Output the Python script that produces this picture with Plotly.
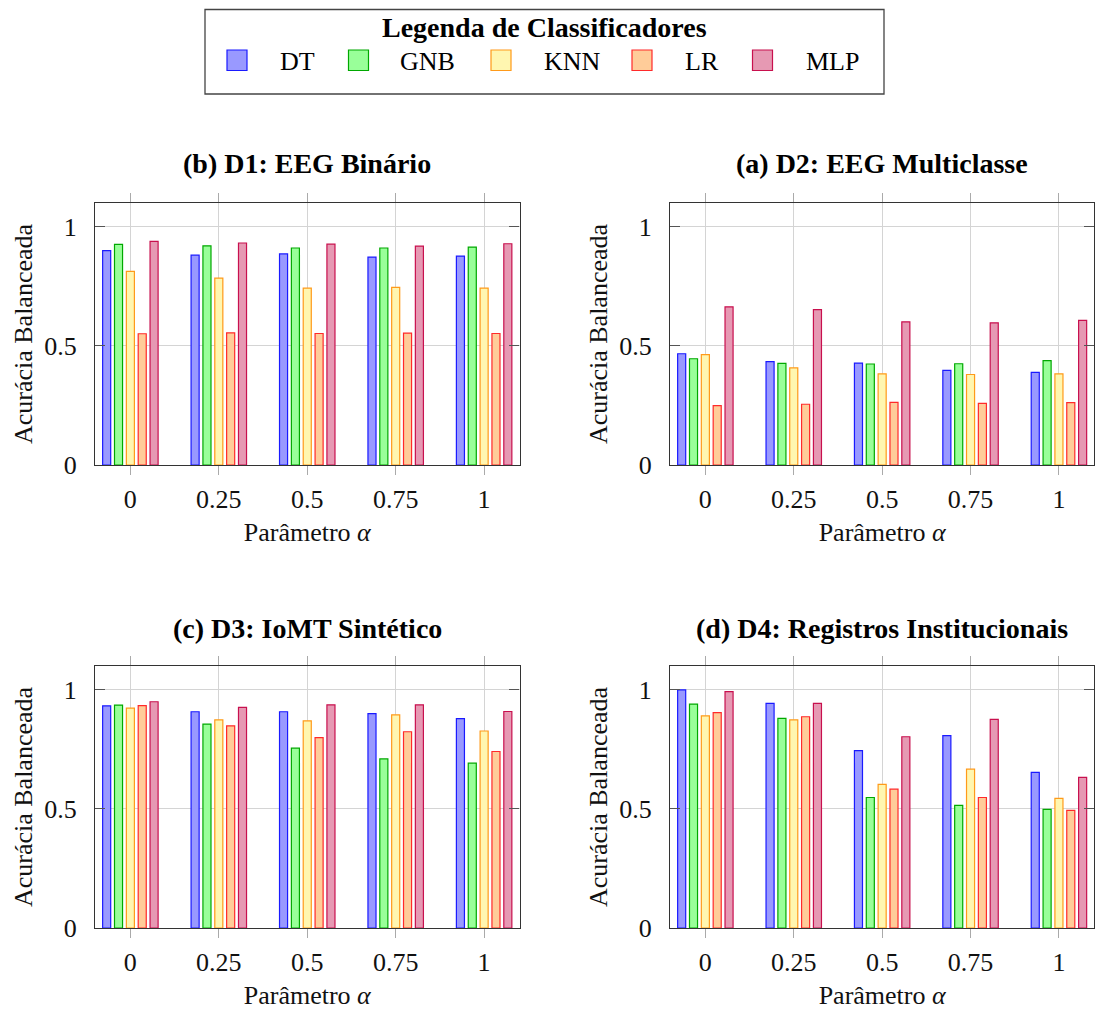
import plotly.graph_objects as go

# ---------------- data ----------------
alphas = [0, 0.25, 0.5, 0.75, 1]
alpha_labels = ["0", "0.25", "0.5", "0.75", "1"]
classifiers = ["DT", "GNB", "KNN", "LR", "MLP"]
y_ticks = [0, 0.5, 1]
y_tick_labels = ["0", "0.5", "1"]

panel_titles = [
    "(b) D1: EEG Binário",
    "(a) D2: EEG Multiclasse",
    "(c) D3: IoMT Sintético",
    "(d) D4: Registros Institucionais",
]

# D1: EEG Binário
d1_dt = [0.900, 0.881, 0.886, 0.873, 0.877]
d1_gnb = [0.926, 0.920, 0.911, 0.911, 0.915]
d1_knn = [0.813, 0.785, 0.743, 0.746, 0.743]
d1_lr = [0.551, 0.555, 0.552, 0.554, 0.552]
d1_mlp = [0.939, 0.932, 0.927, 0.919, 0.929]

# D2: EEG Multiclasse
d2_dt = [0.467, 0.434, 0.428, 0.397, 0.389]
d2_gnb = [0.446, 0.427, 0.424, 0.425, 0.438]
d2_knn = [0.463, 0.408, 0.383, 0.380, 0.383]
d2_lr = [0.249, 0.255, 0.263, 0.259, 0.262]
d2_mlp = [0.664, 0.652, 0.601, 0.597, 0.607]

# D3: IoMT Sintético
d3_dt = [0.933, 0.908, 0.908, 0.900, 0.879]
d3_gnb = [0.936, 0.856, 0.755, 0.710, 0.692]
d3_knn = [0.923, 0.874, 0.870, 0.895, 0.827]
d3_lr = [0.934, 0.849, 0.799, 0.824, 0.741]
d3_mlp = [0.950, 0.926, 0.937, 0.937, 0.909]

# D4: Registros Institucionais
d4_dt = [1.000, 0.943, 0.745, 0.808, 0.653]
d4_gnb = [0.940, 0.880, 0.548, 0.515, 0.498]
d4_knn = [0.891, 0.874, 0.603, 0.667, 0.544]
d4_lr = [0.904, 0.887, 0.583, 0.548, 0.494]
d4_mlp = [0.992, 0.943, 0.803, 0.876, 0.632]

datasets = [
    [d1_dt, d1_gnb, d1_knn, d1_lr, d1_mlp],
    [d2_dt, d2_gnb, d2_knn, d2_lr, d2_mlp],
    [d3_dt, d3_gnb, d3_knn, d3_lr, d3_mlp],
    [d4_dt, d4_gnb, d4_knn, d4_lr, d4_mlp],
]

# ---------------- styles ----------------
fill_colors = ["#9999ff", "#99ff99", "#fff6b0", "#ffcc99", "#e699b3"]
line_colors = ["#1a1aff", "#00a800", "#ff9a1a", "#ff2a2a", "#c8104e"]

W, H = 1095, 1010
FONT = "Liberation Serif"


def px(x):
    return x / W


def py(y):
    return 1 - y / H


x_domains = [[px(95), px(519.5)], [px(670), px(1094.3)]]
y_domains = [[py(465), py(203)], [py(928), py(666)]]

fig = go.Figure()

for p in range(4):
    row, col = divmod(p, 2)
    sfx = "" if p == 0 else str(p + 1)
    for k, name in enumerate(classifiers):
        fig.add_trace(go.Bar(
            x=alphas,
            y=datasets[p][k],
            name=name,
            showlegend=False,
            marker=dict(color=fill_colors[k],
                        line=dict(color=line_colors[k], width=1.2)),
            xaxis="x" + sfx,
            yaxis="y" + sfx,
        ))
    xa = dict(
        domain=x_domains[col],
        anchor="y" + sfx,
        range=[-0.1, 1.1],
        automargin=False,
        tickmode="array",
        tickvals=alphas,
        ticktext=alpha_labels,
        ticks="outside",
        ticklen=9,
        tickcolor="#aaaaaa",
        tickwidth=1,
        showline=True,
        linecolor="#333333",
        linewidth=1.3,
        mirror="allticks",
        showgrid=True,
        gridcolor="#d4d4d4",
        gridwidth=1,
        zeroline=False,
        tickfont=dict(family=FONT, size=26, color="#111111"),
        ticklabelstandoff=2,
        title=dict(text="Parâmetro <i>α</i>",
                   font=dict(family=FONT, size=26, color="#111111"),
                   standoff=9),
        fixedrange=True,
    )
    ya = dict(
        domain=y_domains[row],
        anchor="x" + sfx,
        range=[0, 1.1],
        automargin=False,
        tickmode="array",
        tickvals=y_ticks,
        ticktext=y_tick_labels,
        ticks="inside",
        ticklen=10,
        tickcolor="#555555",
        tickwidth=1,
        showline=True,
        linecolor="#333333",
        linewidth=1.3,
        mirror="allticks",
        showgrid=True,
        gridcolor="#d4d4d4",
        gridwidth=1,
        zeroline=False,
        tickfont=dict(family=FONT, size=26, color="#111111"),
        ticklabelstandoff=12,
        title=dict(text="Acurácia Balanceada",
                   font=dict(family=FONT, size=26, color="#111111"),
                   standoff=4),
        fixedrange=True,
    )
    fig.update_layout({"xaxis" + sfx: xa, "yaxis" + sfx: ya})

    # panel title
    cx = (x_domains[col][0] + x_domains[col][1]) / 2
    ty = py(163) if row == 0 else py(628)
    fig.add_annotation(
        x=cx, y=ty, xref="paper", yref="paper",
        text="<b>" + panel_titles[p] + "</b>",
        showarrow=False, xanchor="center", yanchor="middle",
        font=dict(family=FONT, size=28, color="#000000"),
    )

# ---------------- legend (manual box) ----------------
fig.add_shape(type="rect", xref="paper", yref="paper",
              x0=px(205), x1=px(884), y0=py(94), y1=py(9.5),
              line=dict(color="#444444", width=1.3), fillcolor="white",
              layer="above")
fig.add_annotation(
    x=px(544.5), y=py(27), xref="paper", yref="paper",
    text="<b>Legenda de Classificadores</b>", showarrow=False,
    xanchor="center", yanchor="middle",
    font=dict(family=FONT, size=28, color="#000000"),
)
swatch_cx = [237, 358.5, 501, 642, 762.5]
text_cx = [297.5, 427.5, 572.5, 702, 832]
for k, name in enumerate(classifiers):
    fig.add_shape(type="rect", xref="paper", yref="paper",
                  x0=px(swatch_cx[k] - 10), x1=px(swatch_cx[k] + 10),
                  y0=py(70.5), y1=py(50),
                  fillcolor=fill_colors[k],
                  line=dict(color=line_colors[k], width=1.2), layer="above")
    fig.add_annotation(
        x=px(text_cx[k]), y=py(61), xref="paper", yref="paper",
        text=name, showarrow=False, xanchor="center", yanchor="middle",
        font=dict(family=FONT, size=26, color="#000000"),
    )

fig.update_layout(
    width=W, height=H,
    margin=dict(l=0, r=0, t=0, b=0, autoexpand=False),
    paper_bgcolor="white",
    plot_bgcolor="white",
    barmode="group",
    bargap=0.33,
    bargroupgap=0.32,
    showlegend=False,
    font=dict(family=FONT),
)

fig.write_html(
    "out.html",
    config={"displayModeBar": False},
    post_script="document.body.style.margin='0';document.body.style.overflow='hidden';",
)
